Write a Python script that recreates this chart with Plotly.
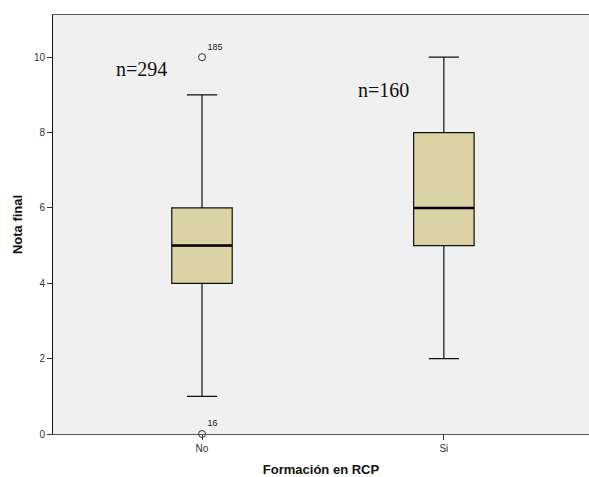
import plotly.graph_objects as go

groups = ["No", "Si"]
group_pos = [0, 1]
q1 = [4, 5]
median = [5, 6]
q3 = [6, 8]
lower_whisker = [1, 2]
upper_whisker = [9, 10]
n_labels = ["n=294", "n=160"]

outlier_x = [0, 0]
outlier_y = [10, 0]
outlier_ids = ["185", "16"]

fill = "#dbd3a4"
box_w = 0.25

fig = go.Figure()
fig.add_trace(go.Box(
    x=group_pos, q1=q1, median=median, q3=q3,
    lowerfence=lower_whisker, upperfence=upper_whisker,
    width=box_w, whiskerwidth=0.5,
    fillcolor=fill, line=dict(color="#111111", width=1.2),
    boxpoints=False, showlegend=False, hoverinfo="skip",
))
# thicker median lines
for xp, m in zip(group_pos, median):
    fig.add_trace(go.Scatter(
        x=[xp - box_w / 2, xp + box_w / 2], y=[m, m], mode="lines",
        line=dict(color="black", width=2.5), showlegend=False, hoverinfo="skip",
    ))
fig.add_trace(go.Scatter(
    x=outlier_x, y=outlier_y, mode="markers+text",
    marker=dict(symbol="circle-open", size=7, color="#333333", line=dict(width=1)),
    text=outlier_ids, textposition="top right",
    textfont=dict(family="Liberation Sans, Arial", size=9, color="#222222"),
    showlegend=False, hoverinfo="skip", cliponaxis=False,
))

for xp, lab, yy in zip(group_pos, n_labels, [9.7, 9.12]):
    fig.add_annotation(x=xp - 0.25, y=yy, text=lab, showarrow=False,
                       font=dict(family="Liberation Serif, DejaVu Serif", size=20, color="#111111"))

fig.update_layout(
    width=589, height=477,
    margin=dict(l=53, r=0, t=15, b=43),
    paper_bgcolor="white", plot_bgcolor="#f0f0f0",
    font=dict(family="Liberation Sans, Arial", color="#222222"),
    xaxis=dict(
        range=[-0.616, 1.6], tickvals=group_pos, ticktext=groups,
        showgrid=False, zeroline=False,
        showline=True, linecolor="#555555", linewidth=1, mirror=True,
        ticks="outside", ticklen=5, tickcolor="#333333",
        tickfont=dict(size=10, color="#333333"),
        title=dict(text="<b>Formación en RCP</b>", font=dict(size=13, color="#111111"), standoff=12),
    ),
    yaxis=dict(
        range=[0, 11.12], tickvals=[0, 2, 4, 6, 8, 10],
        showgrid=False, zeroline=False,
        showline=True, linecolor="#111111", linewidth=1,
        ticks="outside", ticklen=5, tickcolor="#333333",
        tickfont=dict(size=10, color="#333333"),
        title=dict(text="<b>Nota final</b>", font=dict(size=13, color="#111111"), standoff=8),
    ),
)

fig.write_html("out.html")
